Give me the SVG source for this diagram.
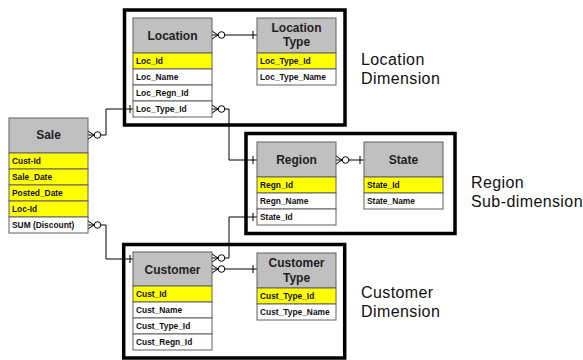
<svg xmlns="http://www.w3.org/2000/svg" xmlns:xlink="http://www.w3.org/1999/xlink" width="583" height="360" viewBox="0 0 583 360">
<style>
.frame{fill:none;stroke:#000;stroke-width:3.5}
.hd{fill:#c0c0c0;stroke:#606060;stroke-width:1}
.key{fill:#ffff00;stroke:#606060;stroke-width:1}
.row{fill:#fff;stroke:#606060;stroke-width:1}
.ht{font-family:"Liberation Sans",Arial,sans-serif;font-weight:bold;font-size:12px;fill:#222;text-anchor:middle}
.rt{font-family:"Liberation Sans",Arial,sans-serif;font-weight:bold;font-size:8.4px;fill:#111}
.lbl{font-family:"Liberation Sans",Arial,sans-serif;font-size:16px;letter-spacing:0.4px;fill:#111}
.ln{fill:none;stroke:#000;stroke-width:1}
.cir{fill:#fff;stroke:#000;stroke-width:1}
</style>
<defs>
<g id="cfo">
<path class="ln" d="M0,-4 L6,0 M0,4 L6,0 M0,0 L6,0"/>
<circle class="cir" cx="9.5" cy="0" r="3.3"/>
</g>
</defs>
<rect class="frame" x="124.5" y="10" width="220.5" height="115"/>
<rect class="frame" x="246" y="133.5" width="209" height="100"/>
<rect class="frame" x="123.7" y="244.5" width="221" height="113.5"/>
<text class="lbl" x="361" y="65">Location</text>
<text class="lbl" x="361" y="83.5">Dimension</text>
<text class="lbl" x="471" y="188.3">Region</text>
<text class="lbl" x="471" y="207.4">Sub-dimension</text>
<text class="lbl" x="361" y="298.4">Customer</text>
<text class="lbl" x="361" y="316.9">Dimension</text>
<g id="connectors">
<use xlink:href="#cfo" x="212" y="35"/>
<path class="ln" d="M224.8,35 H257 M253,31 V39"/>
<use xlink:href="#cfo" x="212" y="109"/>
<path class="ln" d="M224.8,109 H229 V160 H257 M253,156 V164"/>
<use xlink:href="#cfo" x="88" y="135"/>
<path class="ln" d="M100.8,135 H106 V109 H133 M130,105 V113"/>
<use xlink:href="#cfo" x="88" y="225"/>
<path class="ln" d="M100.8,225 H106 V259 H133 M130,255 V263"/>
<use xlink:href="#cfo" x="336" y="160"/>
<path class="ln" d="M348.8,160 H364 M360,156 V164"/>
<use xlink:href="#cfo" x="212" y="258"/>
<path class="ln" d="M257,217 H229 V258 H224.8 M253,213 V221"/>
<use xlink:href="#cfo" x="212" y="269"/>
<path class="ln" d="M224.8,269 H257 M253,265 V273"/>
</g>
<g id="location">
<rect class="hd" x="133" y="18" width="79" height="35"/>
<text class="ht" x="172.5" y="40">Location</text>
<rect class="key" x="133" y="53" width="79" height="16"/>
<text class="rt" x="136" y="64">Loc_Id</text>
<rect class="row" x="133" y="69" width="79" height="16"/>
<text class="rt" x="136" y="80">Loc_Name</text>
<rect class="row" x="133" y="85" width="79" height="16"/>
<text class="rt" x="136" y="96">Loc_Regn_Id</text>
<rect class="row" x="133" y="101" width="79" height="16"/>
<text class="rt" x="136" y="112">Loc_Type_Id</text>
</g>
<g id="location-type">
<rect class="hd" x="257" y="18" width="79" height="35"/>
<text class="ht" x="296.5" y="31.7">Location</text>
<text class="ht" x="296.5" y="46">Type</text>
<rect class="key" x="257" y="53" width="79" height="16"/>
<text class="rt" x="260" y="64">Loc_Type_Id</text>
<rect class="row" x="257" y="69" width="79" height="16"/>
<text class="rt" x="260" y="80">Loc_Type_Name</text>
</g>
<g id="sale">
<rect class="hd" x="9" y="118" width="79" height="35"/>
<text class="ht" x="48.5" y="139">Sale</text>
<rect class="key" x="9" y="153" width="79" height="16"/>
<text class="rt" x="12" y="164">Cust-Id</text>
<rect class="key" x="9" y="169" width="79" height="16"/>
<text class="rt" x="12" y="180">Sale_Date</text>
<rect class="key" x="9" y="185" width="79" height="16"/>
<text class="rt" x="12" y="196">Posted_Date</text>
<rect class="key" x="9" y="201" width="79" height="16"/>
<text class="rt" x="12" y="212">Loc-Id</text>
<rect class="row" x="9" y="217" width="79" height="16"/>
<text class="rt" x="12" y="228">SUM (Discount)</text>
</g>
<g id="region">
<rect class="hd" x="257" y="142" width="79" height="35"/>
<text class="ht" x="296.5" y="164.3">Region</text>
<rect class="key" x="257" y="177" width="79" height="16"/>
<text class="rt" x="260" y="188">Regn_Id</text>
<rect class="row" x="257" y="193" width="79" height="16"/>
<text class="rt" x="260" y="204">Regn_Name</text>
<rect class="row" x="257" y="209" width="79" height="16"/>
<text class="rt" x="260" y="220">State_Id</text>
</g>
<g id="state">
<rect class="hd" x="364" y="142" width="79" height="35"/>
<text class="ht" x="403.5" y="164.3">State</text>
<rect class="key" x="364" y="177" width="79" height="16"/>
<text class="rt" x="367" y="188">State_Id</text>
<rect class="row" x="364" y="193" width="79" height="16"/>
<text class="rt" x="367" y="204">State_Name</text>
</g>
<g id="customer">
<rect class="hd" x="133" y="252" width="79" height="34"/>
<text class="ht" x="172.5" y="273.6">Customer</text>
<rect class="key" x="133" y="286" width="79" height="16"/>
<text class="rt" x="136" y="297">Cust_Id</text>
<rect class="row" x="133" y="302" width="79" height="16"/>
<text class="rt" x="136" y="313">Cust_Name</text>
<rect class="row" x="133" y="318" width="79" height="16"/>
<text class="rt" x="136" y="329">Cust_Type_Id</text>
<rect class="row" x="133" y="334" width="79" height="16"/>
<text class="rt" x="136" y="345">Cust_Regn_Id</text>
</g>
<g id="customer-type">
<rect class="hd" x="257" y="253" width="79" height="35"/>
<text class="ht" x="296.5" y="267">Customer</text>
<text class="ht" x="296.5" y="282">Type</text>
<rect class="key" x="257" y="288" width="79" height="16"/>
<text class="rt" x="260" y="299">Cust_Type_Id</text>
<rect class="row" x="257" y="304" width="79" height="16"/>
<text class="rt" x="260" y="315">Cust_Type_Name</text>
</g>
</svg>
